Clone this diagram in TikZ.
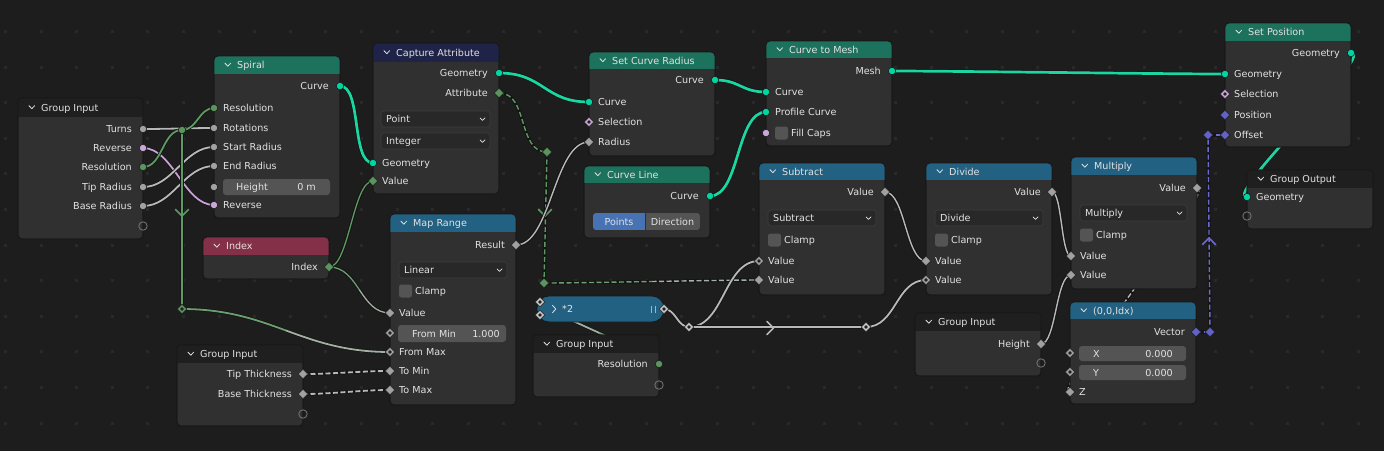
\documentclass[tikz,border=0pt]{standalone}
\usepackage{fontspec}
\setmainfont{DejaVu Sans}
\usetikzlibrary{fit,calc}
\pgfdeclarelayer{bgl}\pgfdeclarelayer{wires}\pgfsetlayers{bgl,wires,main}

\definecolor{bg}{HTML}{1D1D1D}
\definecolor{griddot}{HTML}{292929}
\definecolor{nodebg}{HTML}{303030}
\definecolor{nodeedge}{HTML}{181818}
\definecolor{hgreen}{HTML}{1D725E}
\definecolor{hnavy}{HTML}{1E2347}
\definecolor{hmaroon}{HTML}{843048}
\definecolor{hblue}{HTML}{236182}
\definecolor{hdark}{HTML}{1F1F1F}
\definecolor{txt}{HTML}{E2E2E2}
\definecolor{sgeo}{HTML}{00D6A3}
\definecolor{sint}{HTML}{5C9460}
\definecolor{sflt}{HTML}{A1A1A1}
\definecolor{sbool}{HTML}{CCA6D6}
\definecolor{svec}{HTML}{6363C7}
\definecolor{sockedge}{HTML}{1A1A1A}
\definecolor{fieldbg}{HTML}{545454}
\definecolor{ddbg}{HTML}{282828}
\definecolor{ddedge}{HTML}{3E3E3E}
\definecolor{wgrey}{HTML}{B8B8B8}
\definecolor{wgreen}{HTML}{5E9A63}
\definecolor{wteal}{HTML}{1CD6A2}
\definecolor{wpink}{HTML}{C9A0D6}
\definecolor{wpurple}{HTML}{6A6AD0}
\definecolor{wshadow}{HTML}{141414}
\definecolor{selblue}{HTML}{4772B3}
\definecolor{emptys}{HTML}{707070}
\definecolor{pillsock}{HTML}{C8C8C8}

\tikzset{
 lbl/.style={font=\fontsize{9.6}{11}\selectfont, text=txt, inner sep=0pt},
 nbody/.style={fill=nodebg, draw=nodeedge, line width=0.8pt, rounded corners=4pt, inner sep=0pt},
 shthin/.style={draw=wshadow, line width=3.3pt},
 shthick/.style={draw=wshadow, line width=4.2pt},
 wthin/.style={line width=1.8pt},
 wthick/.style={line width=2.7pt},
 fdash/.style={dash pattern=on 5pt off 2.5pt},
 chev/.style={draw=txt, line width=0.8pt, line cap=round, line join=round},
 marrow/.style={line width=1.5pt, line cap=round, line join=round},
}

\newcounter{lb}
\newcommand{\LabO}[3]{\stepcounter{lb}\node[lbl,anchor=base east] (lb\arabic{lb}) at (#1,#2+3.5) {#3};}
\newcommand{\LabI}[3]{\stepcounter{lb}\node[lbl,anchor=base west] (lb\arabic{lb}) at (#1,#2+3.5) {#3};}

\newcommand{\BNode}[8]{%
 \node[nbody, fit={(#2,#3) (#4,#5)}] (#1) {};
 \begin{scope}
 \clip[rounded corners=4pt] (#2,#3) rectangle (#4,#5);
 \fill[#7] (#2,#3) rectangle (#4,#6);
 \end{scope}
 \draw[nodeedge, line width=0.8pt, rounded corners=4pt] (#2,#3) rectangle (#4,#5);
 \pgfmathsetmacro\hy{(#3+#6)/2}
 \draw[chev] (#2+11,\hy-1.8) -- (#2+13.8,\hy+1.2) -- (#2+16.6,\hy-1.8);
 \node[lbl, anchor=base west] (#1-title) at (#2+23,\hy+3.5) {#8};
}
\newcommand{\SockC}[4]{\coordinate (#1) at (#2,#3); \filldraw[fill=#4, draw=sockedge, line width=0.6pt] (#1) circle (3.7pt);}
\newcommand{\SockD}[4]{\coordinate (#1) at (#2,#3); \filldraw[fill=#4, draw=sockedge, line width=0.6pt] (#1) +(0,-4.8) -- +(4.8,0) -- +(0,4.8) -- +(-4.8,0) -- cycle;}
\newcommand{\SockF}[4]{\SockD{#1}{#2}{#3}{#4}\fill[sockedge!70!nodebg] (#1) +(0,-1.9) -- +(1.9,0) -- +(0,1.9) -- +(-1.9,0) -- cycle;}
\newcommand{\SockE}[3]{\coordinate (#1) at (#2,#3); \draw[emptys, line width=0.9pt] (#1) circle (4.2pt);}
\newcommand{\DD}[6]{%
 \node[fit={(#2,#3) (#4,#5)}, inner sep=0pt, fill=ddbg, draw=ddedge, line width=0.6pt, rounded corners=3pt] (#1) {};
 \pgfmathsetmacro\dy{(#3+#5)/2}
 \node[lbl, anchor=base west] (#1-t) at (#2+5,\dy+3.5) {#6};
 \draw[chev, line width=0.7pt] (#4-10,\dy-1.2) -- (#4-7.5,\dy+1.3) -- (#4-5,\dy-1.2);
}
\newcommand{\CB}[4]{%
 \node[fit={(#2,#3-6.5) (#2+13,#3+6.5)}, inner sep=0pt, fill=fieldbg, rounded corners=2.5pt] (#1) {};
 \node[lbl, anchor=base west] (#1-t) at (#2+16,#3+3.5) {#4};
}
\newcommand{\Wire}[5]{%
 \draw[shthin] (#1) .. controls +(#3,0) and +(-#3,0) .. (#2);
 \draw[wthin, #4, #5] (#1) .. controls +(#3,0) and +(-#3,0) .. (#2);}
\newcommand{\WireT}[3]{%
 \draw[shthick] (#1) .. controls +(#3,0) and +(-#3,0) .. (#2);
 \draw[wthick, wteal] (#1) .. controls +(#3,0) and +(-#3,0) .. (#2);}
\newcommand{\SWire}[4]{%
 \draw[shthin] (#1) -- (#2);
 \draw[wthin, #3, #4] (#1) -- (#2);}
\newcommand{\GWire}[6]{%
 \path (#1) ++(#3,0) coordinate (gwa);
 \path (#2) ++(-#3,0) coordinate (gwb);
 \coordinate (gm01) at ($(#1)!0.5!(gwa)$);
 \coordinate (gm12) at ($(gwa)!0.5!(gwb)$);
 \coordinate (gm23) at ($(gwb)!0.5!(#2)$);
 \coordinate (gA) at ($(gm01)!0.5!(gm12)$);
 \coordinate (gB) at ($(gm12)!0.5!(gm23)$);
 \coordinate (gC) at ($(gA)!0.5!(gB)$);
 \draw[shthin] (#1) .. controls (gwa) and (gwb) .. (#2);
 \draw[wthin, #4, #6] (#1) .. controls (gm01) and (gA) .. (gC);
 \draw[wthin, #5, #6] (gC) .. controls (gB) and (gm23) .. (#2);
}

\begin{document}
\begin{tikzpicture}[x=1pt,y=-1pt]
\useasboundingbox (0,0) rectangle (1384,451);
\begin{pgfonlayer}{bgl}
\fill[bg] (0,0) rectangle (1384,451);
\foreach \gx in {0,...,38}{\foreach \gy in {0,...,13}{
 \pgfmathsetmacro\px{5.5+35.6*\gx-1.5}\pgfmathsetmacro\py{-4.2+35.6*\gy-1.5}
 \fill[griddot] (\px,\py) rectangle ++(3,3);}}
\end{pgfonlayer}

% ---------- Group Input (top left)
\BNode{giA}{18}{98}{143}{239}{117}{hdark}{Group Input}
\LabO{132}{129}{Turns}\LabO{132}{148}{Reverse}\LabO{132}{167}{Resolution}
\LabO{132}{187}{Tip Radius}\LabO{132}{206}{Base Radius}
\SockC{giA-turns}{143}{129}{sflt}\SockC{giA-rev}{143}{148}{sbool}\SockC{giA-res}{143}{167}{sint}
\SockC{giA-tip}{143}{187}{sflt}\SockC{giA-base}{143}{206}{sflt}\SockE{giA-e}{143}{226}

% ---------- Spiral
\BNode{sp}{214}{56}{340}{218}{74}{hgreen}{Spiral}
\LabO{329}{86}{Curve}
\LabI{223}{108}{Resolution}\LabI{223}{128}{Rotations}\LabI{223}{147}{Start Radius}
\LabI{223}{166}{End Radius}\LabI{223}{205}{Reverse}
\node[fit={(223,179) (330,195)}, inner sep=0pt, fill=fieldbg, rounded corners=3pt] (sp-hf) {};
\node[lbl, anchor=base west] (sp-hf-l) at (236,190.5) {Height};
\node[lbl, anchor=base east] (sp-hf-v) at (316,190.5) {0 m};
\SockC{sp-curve}{340}{86}{sgeo}
\SockC{sp-res}{214}{108}{sint}\SockC{sp-rot}{214}{128}{sflt}\SockC{sp-start}{214}{147}{sflt}
\SockC{sp-end}{214}{166}{sflt}\SockC{sp-h}{214}{187}{sflt}\SockC{sp-rev}{214}{205}{sbool}

% ---------- Capture Attribute
\BNode{ca}{373}{43}{499}{194}{62}{hnavy}{Capture Attribute}
\LabO{488}{73}{Geometry}\LabO{488}{93}{Attribute}
\DD{ca-d1}{381}{111}{490}{127}{Point}
\DD{ca-d2}{381}{133}{490}{149}{Integer}
\LabI{382}{163}{Geometry}\LabI{382}{181}{Value}
\SockC{ca-go}{499}{73}{sgeo}\SockD{ca-att}{499}{93}{sint}
\SockC{ca-gi}{373}{163}{sgeo}\SockD{ca-val}{373}{181}{sint}

% ---------- Set Curve Radius
\BNode{scr}{589}{52}{715}{156}{69}{hgreen}{Set Curve Radius}
\LabO{704}{80}{Curve}
\LabI{598}{102}{Curve}\LabI{598}{122}{Selection}\LabI{598}{142}{Radius}
\SockC{scr-out}{715}{80}{sgeo}\SockC{scr-cin}{589}{102}{sgeo}
\SockF{scr-sel}{589}{122}{sbool}\SockD{scr-rad}{589}{142}{sflt}

% ---------- Curve Line
\BNode{cl}{584}{166}{710}{238}{183}{hgreen}{Curve Line}
\LabO{699}{196}{Curve}
\begin{scope}
\clip[rounded corners=3pt] (593,213) rectangle (700,230);
\fill[selblue] (593,213) rectangle (645,230);
\fill[fieldbg] (645.8,213) rectangle (700,230);
\end{scope}
\node[lbl, anchor=base] (cl-b1) at (619,225) {Points};
\node[lbl, anchor=base] (cl-b2) at (672.5,225) {Direction};
\SockC{cl-out}{710}{196}{sgeo}

% ---------- Curve to Mesh
\BNode{cm}{766}{41}{892}{146}{58}{hgreen}{Curve to Mesh}
\LabO{881}{71}{Mesh}
\LabI{775}{92}{Curve}\LabI{775}{112}{Profile Curve}
\CB{cm-c}{775}{133}{Fill Caps}
\SockC{cm-mesh}{892}{71}{sgeo}\SockC{cm-curve}{766}{92}{sgeo}\SockC{cm-prof}{766}{112}{sgeo}
\SockC{cm-fill}{766}{133}{sbool}

% ---------- Set Position
\BNode{spos}{1225}{23}{1351}{147}{41}{hgreen}{Set Position}
\LabO{1340}{53}{Geometry}
\LabI{1234}{74}{Geometry}\LabI{1234}{94}{Selection}\LabI{1234}{115}{Position}\LabI{1234}{135}{Offset}
\SockC{spos-go}{1351}{53}{sgeo}\SockC{spos-gi}{1225}{74}{sgeo}
\SockF{spos-sel}{1225}{94}{sbool}\SockD{spos-pos}{1225}{115}{svec}\SockD{spos-off}{1225}{135}{svec}

% ---------- Group Output
\BNode{go}{1247}{170}{1373}{229}{188}{hdark}{Group Output}
\LabI{1256}{197}{Geometry}
\SockC{go-geo}{1247}{197}{sgeo}\SockE{go-e}{1247}{216}

% ---------- Multiply
\BNode{mul}{1071}{157}{1197}{289}{175}{hblue}{Multiply}
\LabO{1186}{188}{Value}
\DD{mul-d}{1080}{205}{1187}{221}{Multiply}
\CB{mul-c}{1080}{235}{Clamp}
\LabI{1080}{256}{Value}\LabI{1080}{275}{Value}
\SockD{mul-out}{1197}{188}{sflt}\SockD{mul-v1}{1071}{256}{sflt}\SockD{mul-v2}{1071}{275}{sflt}

% ---------- Subtract
\BNode{sub}{759}{163}{885}{295}{180}{hblue}{Subtract}
\LabO{874}{192}{Value}
\DD{sub-d}{768}{210}{876}{226}{Subtract}
\CB{sub-c}{768}{240}{Clamp}
\LabI{768}{261}{Value}\LabI{768}{280}{Value}
\SockD{sub-out}{885}{192}{sflt}\SockF{sub-v1}{759}{261}{sflt}\SockD{sub-v2}{759}{280}{sflt}

% ---------- Divide
\BNode{dv}{926}{163}{1052}{295}{180}{hblue}{Divide}
\LabO{1041}{192}{Value}
\DD{dv-d}{935}{210}{1043}{226}{Divide}
\CB{dv-c}{935}{240}{Clamp}
\LabI{935}{261}{Value}\LabI{935}{280}{Value}
\SockD{dv-out}{1052}{192}{sflt}\SockD{dv-v1}{926}{261}{sflt}\SockF{dv-v2}{926}{280}{sflt}

% ---------- (0,0,Idx)
\BNode{vec}{1070}{302}{1196}{404}{319}{hblue}{(0,0,Idx)}
\LabO{1185}{332}{Vector}
\node[fit={(1079,346) (1186,361)}, inner sep=0pt, fill=fieldbg, rounded corners=3pt] (vec-fx) {};
\node[lbl, anchor=base west] (vec-fx-l) at (1093,357) {X};
\node[lbl, anchor=base east] (vec-fx-v) at (1173,357) {0.000};
\node[fit={(1079,365) (1186,380)}, inner sep=0pt, fill=fieldbg, rounded corners=3pt] (vec-fy) {};
\node[lbl, anchor=base west] (vec-fy-l) at (1093,376) {Y};
\node[lbl, anchor=base east] (vec-fy-v) at (1173,376) {0.000};
\LabI{1079}{392}{Z}
\SockD{vec-out}{1196}{332}{svec}\SockF{vec-x}{1070}{353}{sflt}\SockF{vec-y}{1070}{372}{sflt}
\SockD{vec-z}{1070}{392}{sflt}

% ---------- Group Input (Height)
\BNode{giH}{915}{313}{1041}{376}{331}{hdark}{Group Input}
\LabO{1030}{344}{Height}
\SockD{giH-h}{1041}{344}{sflt}\SockE{giH-e}{1041}{363}

% ---------- Group Input (Resolution)
\BNode{giR}{533}{335}{659}{397}{353}{hdark}{Group Input}
\LabO{648}{364}{Resolution}
\SockC{giR-res}{659}{364}{sint}\SockE{giR-e}{659}{385}

% ---------- Index
\BNode{idx}{203}{237}{329}{279}{255}{hmaroon}{Index}
\LabO{318}{267}{Index}
\SockD{idx-out}{329}{267}{sint}

% ---------- Map Range
\BNode{mr}{390}{214}{516}{405}{232}{hblue}{Map Range}
\LabO{505}{245}{Result}
\DD{mr-d}{399}{262}{507}{278}{Linear}
\CB{mr-c}{399}{291}{Clamp}
\LabI{399}{313}{Value}
\node[fit={(398,325) (506,342)}, inner sep=0pt, fill=fieldbg, rounded corners=3pt] (mr-fmin-f) {};
\node[lbl, anchor=base west] (mr-fmin-l) at (412,337) {From Min};
\node[lbl, anchor=base east] (mr-fmin-v) at (500,337) {1.000};
\LabI{399}{352}{From Max}\LabI{399}{371}{To Min}\LabI{399}{390}{To Max}
\SockD{mr-res}{516}{245}{sflt}\SockD{mr-val}{390}{313}{sflt}\SockF{mr-fmin}{390}{333}{sflt}
\SockF{mr-fmax}{390}{352}{sflt}\SockD{mr-tmin}{390}{371}{sflt}\SockD{mr-tmax}{390}{390}{sflt}

% ---------- Group Input (thickness)
\BNode{giT}{177}{345}{303}{426}{363}{hdark}{Group Input}
\LabO{292}{374}{Tip Thickness}\LabO{292}{394}{Base Thickness}
\SockD{giT-tip}{303}{374}{sflt}\SockD{giT-base}{303}{394}{sflt}\SockE{giT-e}{303}{414}

% ---------- collapsed *2 node
\node[fit={(537,296) (664,322)}, inner sep=0pt, fill=hblue, draw=nodeedge, line width=0.8pt, rounded corners=12pt] (t2) {};
\draw[chev] (552.5,305.3) -- (555.8,309) -- (552.5,312.7);
\node[lbl, anchor=base west] (t2-title) at (562,312.5) {*2};
\draw[pillsock!80!hblue, line width=0.9pt] (651.5,305.5) -- (651.5,312.5) (655.5,305.5) -- (655.5,312.5);
\SockF{t2-in1}{540}{302}{pillsock}\SockF{t2-in2}{540}{315}{pillsock}\SockF{t2-out}{664}{309}{pillsock}

% ---------- reroutes
\SockC{rr1}{182}{130}{sint}
\SockF{rr2}{182}{309}{sint}
\SockD{rr3}{547}{152}{sint}
\SockD{rr4}{544}{283}{sint}
\SockF{rr5}{689}{327}{pillsock}
\SockF{rr6}{866}{327}{pillsock}
\SockD{rr7}{1210}{332}{svec}
\SockD{rr8}{1208}{135}{svec}

% ---------- wires
\begin{pgfonlayer}{wires}
\Wire{giA-turns}{sp-rot}{20}{wgrey}{}
\Wire{giA-rev}{sp-rev}{30}{wpink}{}
\Wire{giA-res}{rr1}{20}{wgreen}{}
\Wire{rr1}{sp-res}{15}{wgreen}{}
\Wire{giA-tip}{sp-start}{30}{wgrey}{}
\Wire{giA-base}{sp-end}{30}{wgrey}{}
\SWire{rr1}{rr2}{wgreen}{}
\draw[marrow, wgreen] (175.5,209.5) -- (182,216) -- (188.5,209.5);
\GWire{rr2}{mr-fmax}{90}{wgreen!85!wgrey}{wgreen!25!wgrey}{}
\WireT{sp-curve}{ca-gi}{22}
\Wire{idx-out}{ca-val}{20}{wgreen}{line width=1.3pt}
\GWire{idx-out}{mr-val}{30}{wgreen!85!wgrey}{wgreen!25!wgrey}{line width=1.3pt}
\WireT{ca-go}{scr-cin}{45}
\Wire{ca-att}{rr3}{30}{wgreen}{fdash, line width=1.4pt}
\SWire{rr3}{rr4}{wgreen}{fdash, line width=1.4pt}
\draw[marrow, wgreen] (538.5,209.5) -- (545,216) -- (551.5,209.5);
\GWire{rr4}{sub-v2}{40}{wgreen!85!wgrey}{wgreen!20!wgrey}{fdash, line width=1.4pt}
\Wire{mr-res}{scr-rad}{35}{wgrey}{line width=1.4pt}
\WireT{scr-out}{cm-curve}{25}
\WireT{cl-out}{cm-prof}{30}
\WireT{cm-mesh}{spos-gi}{60}
\WireT{spos-go}{go-geo}{25}
\Wire{t2-out}{rr5}{12}{wgrey}{}
\Wire{rr5}{sub-v1}{35}{wgrey}{}
\SWire{rr5}{rr6}{wgrey}{}
\draw[marrow, wgrey] (767,321.5) -- (773.5,328) -- (767,334.5);
\Wire{rr6}{dv-v2}{30}{wgrey}{}
\Wire{sub-out}{dv-v1}{20}{wgrey}{line width=1.4pt}
\Wire{dv-out}{mul-v1}{10}{wgrey}{line width=1.4pt}
\Wire{giH-h}{mul-v2}{15}{wgrey}{line width=1.4pt}
\Wire{mul-out}{vec-z}{22}{wgrey}{fdash, line width=1.4pt}
\SWire{vec-out}{rr7}{wpurple}{fdash, line width=1.4pt}
\SWire{rr7}{rr8}{wpurple}{fdash, line width=1.4pt}
\draw[marrow, wpurple] (1202.5,244.5) -- (1209,238) -- (1215.5,244.5);
\SWire{rr8}{spos-off}{wpurple}{fdash, line width=1.4pt}
\GWire{giR-res}{t2-in1}{18}{wgreen!85!wgrey}{wgreen!30!wgrey}{}
\Wire{giT-tip}{mr-tmin}{30}{wgrey}{fdash}
\Wire{giT-base}{mr-tmax}{30}{wgrey}{fdash}
\end{pgfonlayer}
\end{tikzpicture}
\end{document}
